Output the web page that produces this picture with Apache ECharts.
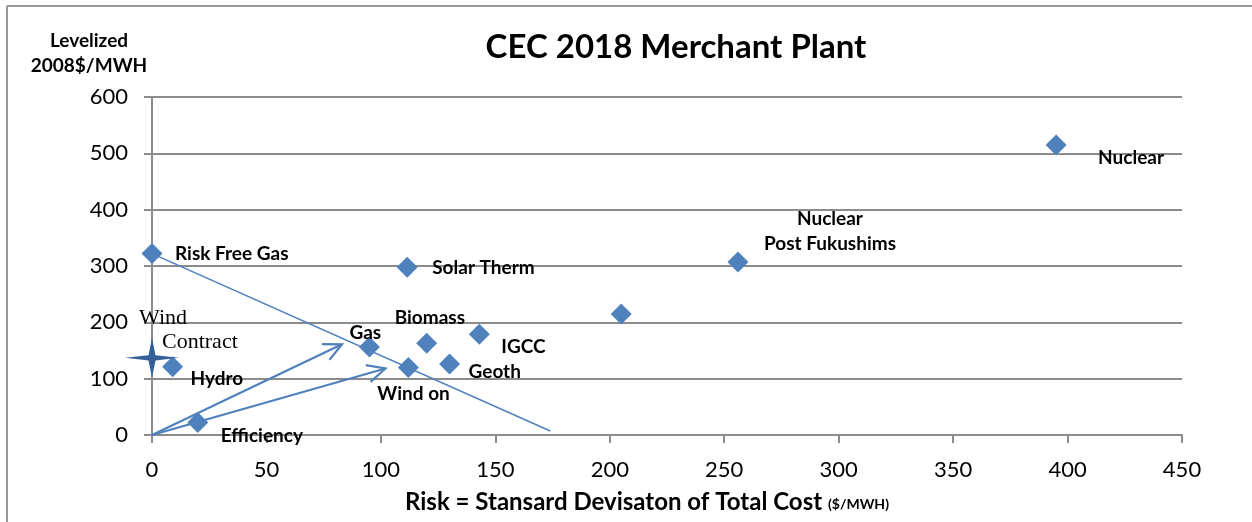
<!DOCTYPE html>
<html>
<head>
<meta charset="utf-8">
<title>CEC 2018 Merchant Plant</title>
<script src="https://cdn.jsdelivr.net/npm/echarts@6/dist/echarts.min.js"></script>
<style>
  html, body { margin: 0; padding: 0; background: #fff; }
  #chart { width: 1252px; height: 522px; }
</style>
</head>
<body>
<div id="chart"></div>
<script>
// plant name, risk (std dev $/MWH), levelized cost (2008$/MWH)
const plantNames = ['Nuclear', 'Nuclear\nPost Fukushims', '', 'Solar Therm', 'Risk Free Gas',
  'IGCC', 'Biomass', 'Gas', 'Geoth', 'Wind on', 'Hydro', 'Efficiency']
const plantRisk = [395, 256, 205, 111.5, 0, 143, 120, 95, 130, 112, 9, 20]
const plantCost = [515, 307, 215, 298, 322, 179, 163, 156, 126, 120, 121, 22]

// wind contract marker
const windContract = [0, 137]

// the falling line from risk free gas
const riskLine = [[0, 322], [174, 7]]

// arrows from origin: [x0, y0, x1, y1]
const arrows = [[0, 0, 83, 161], [0, 0, 102, 118]]

const xTicks = { min: 0, max: 450, interval: 50 }
const yTicks = { min: 0, max: 600, interval: 100 }

// label placement (px from marker centre)
const labelLayout = {
  'Nuclear': { offset: [42, 13], align: 'left' },
  'Nuclear\nPost Fukushims': { offset: [92, -31], align: 'center' },
  'Solar Therm': { offset: [25, 1], align: 'left' },
  'Risk Free Gas': { offset: [23, 0], align: 'left' },
  'IGCC': { offset: [22, 13], align: 'left' },
  'Biomass': { offset: [-32, -25], align: 'left' },
  'Gas': { offset: [-20, -14], align: 'left' },
  'Geoth': { offset: [19, 8], align: 'left' },
  'Wind on': { offset: [-31, 26], align: 'left' },
  'Hydro': { offset: [18, 12], align: 'left' },
  'Efficiency': { offset: [23, 13], align: 'left' }
}

const blue = '#4F81BD'
const axisGray = '#8C8C8C'
const font = 'Lato, "Open Sans", sans-serif'
const serif = '"Liberation Serif", "DejaVu Serif", serif'

const chart = echarts.init(document.getElementById('chart'))

const scatterData = plantNames.map((name, i) => {
  const lay = labelLayout[name]
  return {
    name: name,
    value: [plantRisk[i], plantCost[i]],
    label: lay ? {
      show: true,
      position: 'inside',
      offset: lay.offset,
      align: lay.align,
      verticalAlign: 'middle',
      lineHeight: 25
    } : { show: false }
  }
})

const option = {
  animation: false,
  backgroundColor: '#fff',
  grid: { left: 152, right: 70, top: 97, bottom: 87, outerBoundsMode: 'none', containLabel: false },
  xAxis: {
    type: 'value',
    min: xTicks.min,
    max: xTicks.max,
    interval: xTicks.interval,
    name: '{m|Risk = Stansard Devisaton of Total Cost }{s|($/MWH)}',
    nameLocation: 'middle',
    nameGap: 55,
    nameTextStyle: {
      padding: [0, 40, 0, 0],
      rich: {
        m: { fontFamily: font, fontWeight: 'bold', fontSize: 24, color: '#000' },
        s: { fontFamily: font, fontWeight: 'bold', fontSize: 14, color: '#000', padding: [4, 0, 0, 0] }
      }
    },
    axisLine: { lineStyle: { color: axisGray, width: 2 } },
    axisTick: { show: true, length: 8, lineStyle: { color: axisGray, width: 2 } },
    axisLabel: { margin: 24, fontFamily: font, fontSize: 22, color: '#000' },
    splitLine: { show: false }
  },
  yAxis: {
    type: 'value',
    min: yTicks.min,
    max: yTicks.max,
    interval: yTicks.interval,
    axisLine: { show: true, lineStyle: { color: axisGray, width: 2 } },
    axisTick: { show: true, length: 8, lineStyle: { color: axisGray, width: 2 } },
    axisLabel: { margin: 24, fontFamily: font, fontSize: 22, color: '#000' },
    splitLine: { show: true, lineStyle: { color: axisGray, width: 2 } }
  },
  graphic: [
    { type: 'line', shape: { x1: 7, y1: 6, x2: 1252, y2: 6 }, style: { stroke: '#999', lineWidth: 2 } },
    { type: 'line', shape: { x1: 7, y1: 6, x2: 7, y2: 522 }, style: { stroke: '#999', lineWidth: 2 } },
    {
      type: 'text', x: 676, y: 47, z: 10,
      style: { text: 'CEC 2018 Merchant Plant', align: 'center', verticalAlign: 'middle', fontFamily: font,
        fontWeight: 'bold', fontSize: 33, fill: '#000' }
    },
    {
      type: 'text', x: 89, y: 53, z: 10,
      style: { text: 'Levelized\n2008$/MWH', align: 'center', verticalAlign: 'middle', lineHeight: 25,
        fontFamily: font, fontWeight: 'bold', fontSize: 19, fill: '#000' }
    }
  ],
  series: [
    {
      name: 'risk line',
      type: 'line',
      data: riskLine,
      symbol: 'none',
      lineStyle: { color: blue, width: 1.6 },
      z: 1,
      silent: true
    },
    {
      name: 'arrows',
      type: 'custom',
      data: arrows,
      encode: { x: [0, 2], y: [1, 3] },
      z: 1,
      renderItem: (params, api) => {
        const p0 = api.coord([api.value(0), api.value(1)])
        const p1 = api.coord([api.value(2), api.value(3)])
        const ang = Math.atan2(p1[1] - p0[1], p1[0] - p0[0])
        const len = 20
        const spread = 0.45
        const a1 = [p1[0] - len * Math.cos(ang - spread), p1[1] - len * Math.sin(ang - spread)]
        const a2 = [p1[0] - len * Math.cos(ang + spread), p1[1] - len * Math.sin(ang + spread)]
        const style = { stroke: blue, lineWidth: 2.2, fill: null }
        return {
          type: 'group',
          children: [
            { type: 'line', shape: { x1: p0[0], y1: p0[1], x2: p1[0], y2: p1[1] }, style: style },
            { type: 'polyline', shape: { points: [a1, p1, a2] }, style: style }
          ]
        }
      }
    },
    {
      name: 'plants',
      type: 'scatter',
      symbol: 'diamond',
      symbolSize: 21,
      itemStyle: { color: blue, opacity: 1 },
      label: {
        formatter: '{b}',
        fontFamily: font,
        fontWeight: 'bold',
        fontSize: 19,
        color: '#000'
      },
      data: scatterData,
      z: 3
    },
    {
      name: 'wind contract',
      type: 'scatter',
      symbol: 'path://M0,-10 L1.3,-1.3 L10,0 L1.3,1.3 L0,10 L-1.3,1.3 L-10,0 L-1.3,-1.3 Z',
      symbolSize: [54, 40],
      itemStyle: { color: '#36609A', opacity: 1 },
      data: [{
        value: windContract,
        label: {
          show: true,
          position: 'inside',
          offset: [-13, -28],
          align: 'left',
          verticalAlign: 'middle',
          formatter: '{a|Wind}\n{b|Contract}',
          rich: {
            a: { fontFamily: serif, fontSize: 22, color: '#000', lineHeight: 24 },
            b: { fontFamily: serif, fontSize: 22, color: '#000', lineHeight: 24, padding: [0, 0, 0, 23] }
          }
        }
      }],
      z: 4
    }
  ]
}

chart.setOption(option)
</script>
</body>
</html>
